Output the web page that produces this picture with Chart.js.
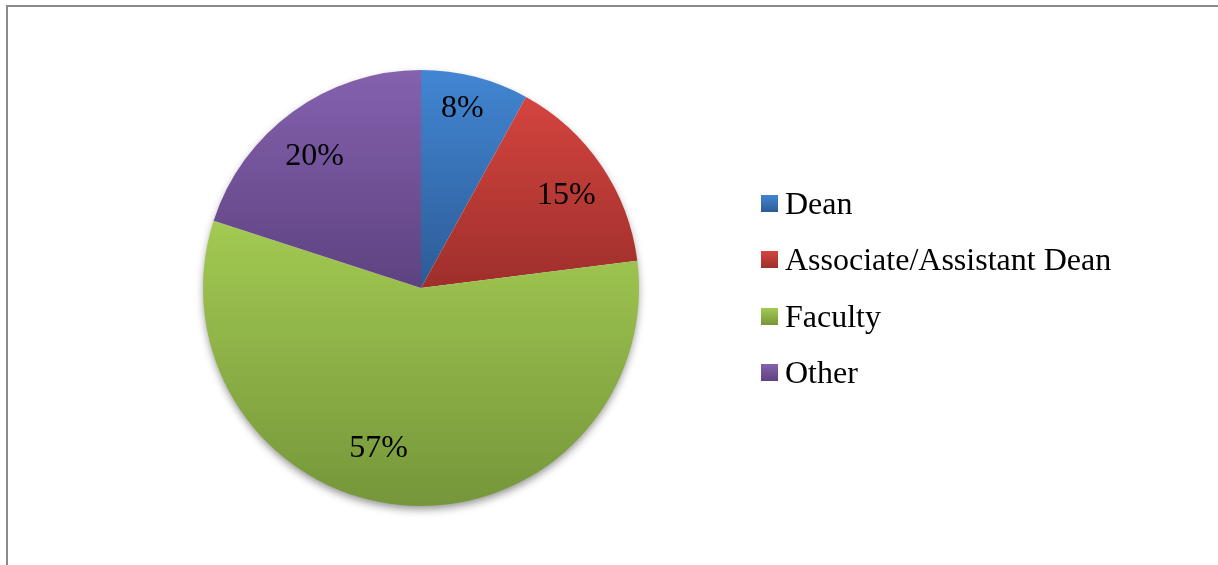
<!DOCTYPE html>
<html>
<head>
<meta charset="utf-8">
<title>Respondents by position</title>
<script src="https://cdn.jsdelivr.net/npm/chart.js@4/dist/chart.umd.min.js"></script>
<style>
  html, body {
    margin: 0;
    padding: 0;
    background: #fff;
  }
  .chart-box {
    position: relative;
    width: 1218px;
    height: 565px;
  }
  .frame {
    position: absolute;
    left: 6px;
    top: 5px;
    right: 0;
    bottom: 0;
    border-top: 2px solid #8a8a8a;
    border-left: 2px solid #8a8a8a;
  }
  #legend {
    position: absolute;
    left: 761px;
    top: 175px;
    font-family: "Liberation Serif", "Times New Roman", serif;
    font-size: 32px;
    color: #000;
  }
  #legend div {
    height: 56.5px;
    display: flex;
    align-items: center;
    white-space: nowrap;
  }
  #legend span.box {
    display: inline-block;
    width: 17px;
    height: 17px;
    margin-right: 7px;
  }
</style>
</head>
<body>
<div class="chart-box">
  <div class="frame"></div>
  <canvas id="pie-chart" width="1218" height="565"></canvas>
  <div id="legend"></div>
</div>

<script>
"use strict";

//------------------------- data ---------------------------------
const positions = ["Dean", "Associate/Assistant Dean", "Faculty", "Other"];
const shares = [8, 15, 57, 20];

// light (top) and dark (bottom) end of each slice's fill
const topColors = ["#4286d3", "#d4443f", "#a3ca52", "#8561ae"];
const bottomColors = ["#2c5b96", "#9e2f2b", "#75963a", "#5d4280"];

const serif = "'Liberation Serif', 'Times New Roman', serif";

//------------------------- slice gradients ----------------------
// every slice gets its own vertical gradient, from its top edge to its bottom edge
function sliceGradient(context) {
  let chart = context.chart;
  let area = chart.chartArea;
  if (!area) return topColors[context.dataIndex];
  let cx = (area.left + area.right) / 2;
  let cy = (area.top + area.bottom) / 2;
  let r = Math.min(area.right - area.left, area.bottom - area.top) / 2;

  let total = shares.reduce((a, b) => a + b, 0);
  let before = 0;
  for (let i = 0; i < context.dataIndex; i++) before += shares[i];
  let a0 = -Math.PI / 2 + before / total * Math.PI * 2;
  let a1 = a0 + shares[context.dataIndex] / total * Math.PI * 2;

  let ys = [cy, cy + r * Math.sin(a0), cy + r * Math.sin(a1)];
  // top / bottom of the circle if the slice passes through them
  for (let k = -1; k <= 3; k++) {
    let a = -Math.PI / 2 + k * Math.PI;
    if (a > a0 && a < a1) ys.push(cy + r * Math.sin(a));
  }
  let y0 = Math.min(...ys);
  let y1 = Math.max(...ys);

  let g = chart.ctx.createLinearGradient(0, y0, 0, y1);
  g.addColorStop(0, topColors[context.dataIndex]);
  g.addColorStop(1, bottomColors[context.dataIndex]);
  return g;
}

//------------------------- plugins ------------------------------
// soft shadow under the pie
const pieShadow = {
  id: "pieShadow",
  beforeDatasetsDraw(chart) {
    let arc = chart.getDatasetMeta(0).data[0];
    if (!arc) return;
    let ctx = chart.ctx;
    ctx.save();
    ctx.shadowColor = "rgba(0,0,0,0.45)";
    ctx.shadowBlur = 9;
    ctx.shadowOffsetY = 4;
    ctx.fillStyle = "#fff";
    ctx.beginPath();
    ctx.arc(arc.x, arc.y, arc.outerRadius - 1, 0, Math.PI * 2);
    ctx.fill();
    ctx.restore();
  }
};

// percentage text inside each slice, placed at the slice's middle angle
// (nudge moves a label a few px off that spot, like the best-fit placement)
const sliceLabels = {
  id: "sliceLabels",
  afterDatasetsDraw(chart, args, opts) {
    let ctx = chart.ctx;
    let arcs = chart.getDatasetMeta(0).data;
    ctx.save();
    ctx.font = "32px " + serif;
    ctx.fillStyle = "#000";
    ctx.textAlign = "center";
    ctx.textBaseline = "middle";
    arcs.forEach((arc, i) => {
      let mid = (arc.startAngle + arc.endAngle) / 2;
      let dist = arc.outerRadius * 0.8;
      let nudge = opts.nudge[i] || [0, 0];
      let x = arc.x + Math.cos(mid) * dist + nudge[0];
      let y = arc.y + Math.sin(mid) * dist + nudge[1];
      ctx.fillText(shares[i] + "%", x, y);
    });
    ctx.restore();
  }
};

//------------------------- chart --------------------------------
let pieCanvas = document.getElementById("pie-chart").getContext("2d");

let positionChart = new Chart(pieCanvas, {
  type: "pie",
  data: {
    labels: positions,
    datasets: [{
      data: shares,
      backgroundColor: sliceGradient,
      borderWidth: 0,
      hoverOffset: 0
    }]
  },
  options: {
    responsive: false,
    animation: false,
    rotation: 0,
    layout: {
      padding: { left: 203, right: 579, top: 70, bottom: 59 }
    },
    plugins: {
      legend: { display: false },
      tooltip: { enabled: false },
      sliceLabels: {
        nudge: [[-2, -10], [1, 6], [-26, -13], [-4, 10]]
      }
    }
  },
  plugins: [pieShadow, sliceLabels]
});

//------------------------- legend -------------------------------
// built from the chart's own labels
function appendLegend(chart) {
  let html = "";
  chart.data.labels.forEach((label, i) => {
    html += `
    <div>
      <span class="box" style="background: linear-gradient(${topColors[i]}, ${bottomColors[i]})"></span>${label}
    </div>`;
  });
  document.querySelector("#legend").innerHTML = html;
}
appendLegend(positionChart);
</script>
</body>
</html>
